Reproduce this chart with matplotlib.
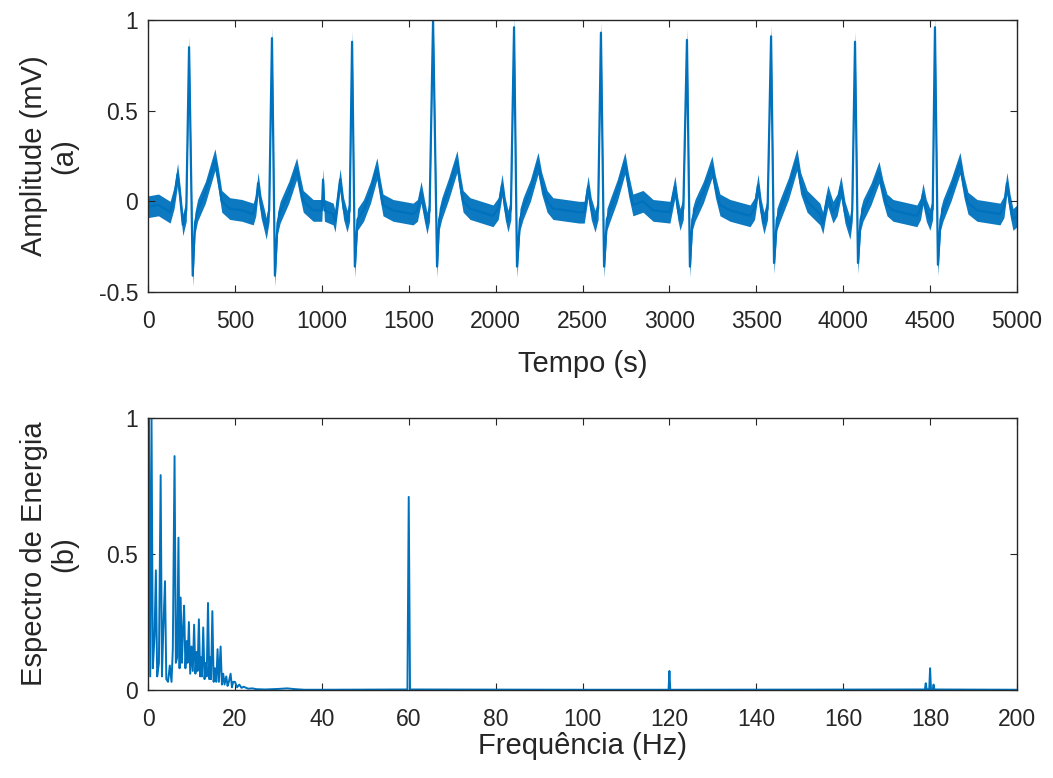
import numpy as np
import matplotlib
matplotlib.use('Agg')
import matplotlib.pyplot as plt

# ------------------------------------------------------------------
# Data
# ------------------------------------------------------------------
# ECG trace (a): key points (sample, mV) along the centre of the noisy band
ecg_t = [0, 60, 127, 150, 170, 185, 200, 220, 236, 257, 270, 285, 330, 385, 405, 424,
         470, 540, 605, 620, 633, 650, 668, 680, 697, 713, 730, 745, 760, 810, 855, 875,
         893, 950, 1000, 1007, 1015, 1065, 1076, 1090, 1105, 1125, 1145, 1160, 1174, 1190,
         1205, 1240, 1280, 1317, 1335, 1352, 1410, 1525, 1550, 1571, 1590, 1605, 1620, 1640,
         1663, 1675, 1690, 1730, 1778, 1795, 1813, 1853, 1985, 2015, 2037, 2055, 2071, 2088,
         2106, 2123, 2140, 2158, 2200, 2244, 2265, 2296, 2330, 2480, 2510, 2532, 2550, 2572,
         2590, 2606, 2624, 2640, 2658, 2700, 2744, 2765, 2790, 2848, 2906, 3003, 3032, 3048,
         3061, 3080, 3101, 3118, 3132, 3147, 3195, 3245, 3265, 3291, 3349, 3464, 3490, 3510,
         3528, 3544, 3565, 3585, 3602, 3618, 3636, 3685, 3734, 3755, 3792, 3866, 3883, 3897,
         3912, 3941, 3965, 3987, 4010, 4039, 4052, 4068, 4085, 4100, 4114, 4160, 4206, 4228,
         4252, 4287, 4424, 4445, 4459, 4478, 4499, 4515, 4528, 4545, 4560, 4574, 4620, 4672,
         4695, 4718, 4770, 4902, 4925, 4942, 4960, 4977, 5000]
ecg_v = [-0.03, -0.02, -0.06, 0.02, 0.15, 0.02, -0.13, -0.05, 0.85, -0.41, -0.12, -0.05, 0.05, 0.23, 0.12, 0.0,
         -0.04, -0.05, -0.07, -0.02, 0.10, -0.03, -0.10, -0.15, -0.05, 0.90, -0.41, -0.12, -0.06, 0.05, 0.18, 0.08,
         0.0, -0.05, -0.05, 0.12, -0.05, -0.07, -0.11, 0.0, 0.12, -0.04, -0.11, -0.05, 0.88, -0.36,
         -0.10, -0.05, 0.05, 0.18, 0.07, -0.02, -0.05, -0.07, -0.05, 0.05, -0.05, -0.12, -0.05, 1.0,
         -0.36, -0.10, -0.04, 0.07, 0.22, 0.10, 0.0, -0.04, -0.08, -0.04, 0.09, -0.04, -0.11, -0.04,
         0.96, -0.36, -0.10, -0.04, 0.06, 0.21, 0.10, 0.0, -0.04, -0.06, -0.06, 0.08, -0.04, -0.11,
         -0.04, 0.93, -0.36, -0.10, -0.05, 0.06, 0.21, 0.09, -0.02, 0.0, -0.05, -0.06, 0.08, -0.04,
         -0.10, -0.04, 0.89, -0.36, -0.10, -0.05, 0.05, 0.19, 0.08, -0.02, -0.05, -0.08, -0.04, 0.09,
         -0.05, -0.12, -0.04, 0.91, -0.34, -0.10, -0.05, 0.07, 0.23, 0.10, 0.0, -0.07, -0.12, -0.04,
         0.03, -0.06, -0.02, 0.08, -0.06, -0.15, -0.05, 0.88, -0.34, -0.10, -0.05, 0.04, 0.16, 0.06,
         -0.02, -0.05, -0.08, -0.04, 0.04, -0.05, -0.10, -0.04, 0.96, -0.35, -0.10, -0.05, 0.06, 0.21,
         0.08, -0.01, -0.05, -0.07, -0.03, 0.10, -0.02, -0.10, -0.08]

# Energy spectrum (b): frequency (Hz) and normalised energy
spec_f = [0, 0.2, 0.5, 0.8, 1.1, 1.5, 1.8, 2.1, 2.5, 2.9, 3.2, 3.5, 3.9, 4.2, 4.6, 5.0,
          5.4, 5.7, 6.1, 6.4, 6.7, 7.0, 7.25, 7.5, 7.8, 8.0, 8.3, 8.6, 8.9, 9.1, 9.4, 9.7,
          10.0, 10.3, 10.6, 10.9, 11.2, 11.4, 11.7, 12.0, 12.2, 12.4, 12.7, 13.0, 13.3, 13.5,
          13.8, 14.1, 14.3, 14.5, 14.8, 15.1, 15.4, 15.7, 16.0, 16.3, 16.7, 17.0, 17.3, 17.6,
          18.0, 18.3, 18.6, 19.0, 19.3, 19.6, 20.0, 20.5, 21.0, 21.5, 22, 23, 24, 25, 27, 30,
          32, 34, 36, 40, 59.7, 60.0, 60.3, 100, 119.8, 120.0, 120.2, 178.8, 179.0, 179.2,
          179.8, 180.0, 180.2, 180.6, 180.8, 181.0, 200]
spec_v = [0.3, 1.0, 0.05, 1.0, 0.08, 0.2, 0.44, 0.05, 0.1, 0.79, 0.05, 0.22, 0.4, 0.04, 0.03, 0.09,
          0.03, 0.15, 0.86, 0.1, 0.12, 0.56, 0.08, 0.34, 0.1, 0.2, 0.31, 0.08, 0.18, 0.1, 0.25, 0.06,
          0.16, 0.07, 0.24, 0.06, 0.14, 0.07, 0.26, 0.05, 0.12, 0.05, 0.23, 0.04, 0.1, 0.05,
          0.32, 0.04, 0.12, 0.04, 0.29, 0.03, 0.08, 0.03, 0.15, 0.03, 0.16, 0.02, 0.06, 0.02,
          0.05, 0.015, 0.03, 0.06, 0.01, 0.03, 0.03, 0.01, 0.02, 0.008, 0.012, 0.005, 0.006, 0.003, 0.002, 0.004,
          0.006, 0.003, 0.001, 0.001, 0.002, 0.71, 0.002, 0.001, 0.001, 0.07, 0.001, 0.002, 0.025, 0.003,
          0.003, 0.08, 0.003, 0.002, 0.02, 0.002, 0.001]

top_xticks = list(range(0, 5001, 500))
top_yticks = [-0.5, 0, 0.5, 1]
top_yticklabels = ['-0.5', '0', '0.5', '1']
bot_xticks = list(range(0, 201, 20))
bot_yticks = [0, 0.5, 1]
bot_yticklabels = ['0', '0.5', '1']

# ------------------------------------------------------------------
# Figure
# ------------------------------------------------------------------
plt.rcParams['font.family'] = ['Liberation Sans', 'DejaVu Sans']
line_col = '#0072BD'
frame_col = '#262626'

fig = plt.figure(figsize=(10.53, 7.78), dpi=100)
ax1 = fig.add_axes([0.1406, 0.6247, 0.8252, 0.3496])
ax2 = fig.add_axes([0.1406, 0.1131, 0.8252, 0.3496])

t = np.array(ecg_t, dtype=float)
v = np.array(ecg_v, dtype=float)
band = 0.06
ax1.fill_between(t, v - band, v + band, color=line_col, linewidth=0, alpha=0.95)
ax1.plot(t, v, color=line_col, linewidth=1.6)
ax1.set_xlim(0, 5000)
ax1.set_ylim(-0.5, 1)
ax1.set_xticks(top_xticks)
ax1.set_yticks(top_yticks)
ax1.set_yticklabels(top_yticklabels)
ax1.set_xlabel('Tempo (s)', fontsize=21, color=frame_col, labelpad=12)
ax1.set_ylabel('Amplitude (mV)\n(a)', fontsize=21, color=frame_col, labelpad=15,
               linespacing=1.1)

ax2.plot(spec_f, spec_v, color=line_col, linewidth=1.4)
ax2.set_xlim(0, 200)
ax2.set_ylim(0, 1)
ax2.set_xticks(bot_xticks)
ax2.set_yticks(bot_yticks)
ax2.set_yticklabels(bot_yticklabels)
ax2.set_xlabel('Frequência (Hz)', fontsize=21, color=frame_col, labelpad=1)
ax2.set_ylabel('Espectro de Energia\n(b)', fontsize=21, color=frame_col, labelpad=20,
               linespacing=1.1)

for ax in (ax1, ax2):
    for s in ax.spines.values():
        s.set_color(frame_col)
        s.set_linewidth(1.0)
    ax.tick_params(direction='in', length=5, width=0.8, colors=frame_col,
                   labelsize=16.5, top=True, right=True)
    ax.tick_params(axis='x', pad=13)
    ax.tick_params(axis='y', pad=7)

fig.savefig('out.png', dpi=100)
